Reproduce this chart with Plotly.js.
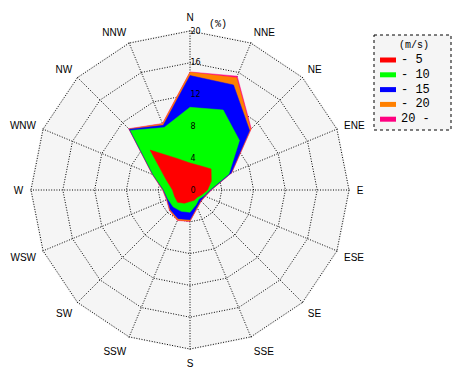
<!DOCTYPE html>
<html>
<head>
<meta charset="utf-8">
<script src="https://cdn.plot.ly/plotly-3.0.1.min.js"></script>
<style>html,body{margin:0;padding:0;background:#fff;}#chart{width:470px;height:380px;}</style>
</head>
<body>
<div id="chart"></div>
<script>
// Wind directions (16 points)
var directions = ['N','NNE','NE','ENE','E','ESE','SE','SSE','S','SSW','SW','WSW','W','WNW','NW','NNW'];
// Cumulative frequency (%) per direction
var cumUpTo5  = [3.4, 3.3, 3.75, 2.9, 2.2, 1.6, 1.3, 1.4, 1.45, 1.8, 2.2, 2.1, 2.2, 3.2, 7.1, 4.3];
var cumUpTo10 = [10.4, 10.9, 8.8, 5.3, 2.5, 1.9, 1.6, 2.0, 2.8, 2.9, 3.0, 3.0, 3.3, 5.0, 10.6, 8.5];
var cumUpTo15 = [14.4, 14.3, 10.6, 5.6, 2.6, 2.0, 1.9, 2.3, 3.75, 3.9, 3.5, 3.1, 3.35, 5.05, 10.8, 8.8];
var cumUpTo20 = [14.8, 15.3, 10.8, 5.65, 2.65, 2.05, 1.95, 2.4, 3.9, 4.1, 3.6, 3.15, 3.4, 5.1, 10.85, 9.0];
var cumAll    = [14.85, 15.5, 10.9, 5.7, 2.7, 2.1, 2.0, 2.45, 3.95, 4.15, 3.65, 3.2, 3.45, 5.15, 10.9, 9.05];
// Speed classes (m/s)
var classLabels = ['- 5', '- 10', '- 15', '- 20', '20 -'];
var classColors = ['#ff0000', '#00ff00', '#0000ff', '#ff8000', '#ff0080'];
var radialTickVals = [0, 4, 8, 12, 16, 20];
var radialTickText = ['0', '4', '8', '12', '16', '20'];

var series = [cumUpTo5, cumUpTo10, cumUpTo15, cumUpTo20, cumAll];

var traces = [];
for (var i = series.length - 1; i >= 0; i--) {
  traces.push({
    type: 'scatterpolar',
    r: series[i].concat([series[i][0]]),
    theta: directions.concat([directions[0]]),
    mode: 'lines',
    fill: 'toself',
    fillcolor: classColors[i],
    line: {color: classColors[i], width: 0.5},
    name: classLabels[i],
    showlegend: false,
    hoverinfo: 'skip'
  });
}

var W = 470, H = 380;
function px(x){ return x / W; }
function py(y){ return 1 - y / H; }

var rMax = 20.15;           // tiny headroom so the 20 ring is drawn
var cx = 190, cyc = 190, outer = 159 * rMax / 20;

var shapes = [{
  type: 'rect', xref: 'paper', yref: 'paper',
  x0: px(374), x1: px(451), y0: py(35), y1: py(130),
  fillcolor: '#f5f5f5', line: {color: '#000', width: 1, dash: 'dot'}, layer: 'below'
}];
var annotations = [{
  xref: 'paper', yref: 'paper', x: px(414), y: py(45), text: '(m/s)', showarrow: false,
  xanchor: 'center', yanchor: 'middle', font: {family: 'Liberation Mono', size: 10, color: '#000'}
}, {
  xref: 'paper', yref: 'paper', x: px(207), y: py(25), text: '(%)', showarrow: false,
  xanchor: 'left', yanchor: 'middle', font: {family: 'Liberation Mono', size: 10, color: '#000'}
}];
for (var k = 0; k < classLabels.length; k++) {
  var ly = 60 + k * 14.8;
  shapes.push({
    type: 'rect', xref: 'paper', yref: 'paper',
    x0: px(380), x1: px(396), y0: py(ly - 2.5), y1: py(ly + 2.5),
    fillcolor: classColors[k], line: {width: 0}
  });
  annotations.push({
    xref: 'paper', yref: 'paper', x: px(399), y: py(ly), text: classLabels[k], showarrow: false,
    xanchor: 'left', yanchor: 'middle', font: {family: 'Liberation Mono', size: 12, color: '#000'}
  });
}

var layout = {
  width: W, height: H,
  margin: {l: 0, r: 0, t: 0, b: 0},
  paper_bgcolor: '#ffffff',
  showlegend: false,
  polar: {
    domain: {x: [px(cx - outer), px(cx + outer)], y: [py(cyc + outer), py(cyc - outer)]},
    bgcolor: '#f5f5f5',
    gridshape: 'linear',
    radialaxis: {
      range: [0, rMax], tickvals: radialTickVals, ticktext: radialTickText,
      angle: 90, side: 'clockwise', tickangle: 90,
      showline: false, ticks: '',
      showgrid: true, gridcolor: '#000', gridwidth: 1, griddash: '1px,1.6px',
      tickfont: {family: 'DejaVu Sans', size: 8, color: '#000'}
    },
    angularaxis: {
      type: 'category', categoryarray: directions,
      rotation: 90, direction: 'clockwise',
      showline: false,
      showgrid: true, gridcolor: '#000', gridwidth: 1, griddash: '1px,1.6px',
      ticks: 'outside', ticklen: 4, tickcolor: 'rgba(0,0,0,0)',
      tickfont: {family: 'Liberation Sans', size: 10, color: '#000'}
    }
  },
  shapes: shapes,
  annotations: annotations
};

Plotly.newPlot('chart', traces, layout, {displayModeBar: false, staticPlot: true});
</script>
</body>
</html>
